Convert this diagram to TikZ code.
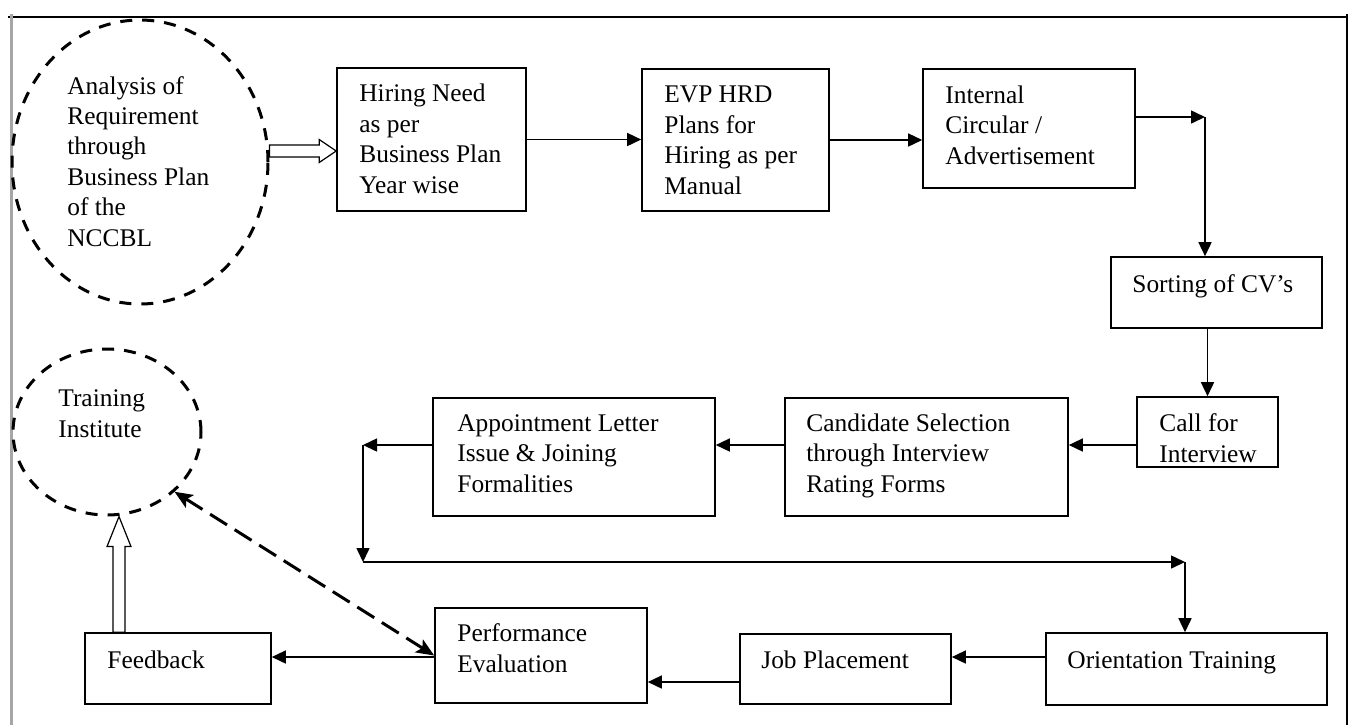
\documentclass[tikz,border=0pt]{standalone}
\usepackage{fontspec}
\setmainfont{Liberation Serif}
\usetikzlibrary{arrows.meta,calc,shapes.geometric}
\begin{document}
\begin{tikzpicture}[x=0.5pt,y=-0.5pt,
  stepbox/.style 2 args={draw, rectangle, line width=0.8pt, inner sep=0pt,
    minimum width=#1*0.5pt, minimum height=#2*0.5pt},
  goal/.style 2 args={draw, ellipse, line width=1.5pt, dash pattern=on 6pt off 5pt,
    inner sep=0pt, minimum width=#1*0.5pt, minimum height=#2*0.5pt},
  % texts are placed by the baseline of their last line
  txt/.style={anchor=base west, align=left, inner sep=0pt,
    font=\fontsize{12.7}{15.2}\selectfont},
  flow/.style={line width=0.75pt, -{Triangle[length=7pt,width=6.5pt]}},
  hollow/.style={draw, fill=white, line width=0.6pt, line join=miter},
  link/.style={line width=1.5pt, dash pattern=on 10pt off 4.5pt,
    {Stealth[length=9pt,width=7.5pt,inset=2pt]}-{Stealth[length=9pt,width=7.5pt,inset=2pt]}}
]
\useasboundingbox (0,0) rectangle (1353,725);

% page frame
\draw[line width=0.8pt] (8,17) -- (1347,17);
\draw[line width=1.5pt, black!35] (11,14) -- (11,725);
\draw[line width=0.8pt] (1347,14) -- (1347,725);

% dashed circles
\node[goal={256}{284}] (ana) at (140,162) {};
\node[txt] (ana-t) at (67,246) {Analysis of\\Requirement\\through\\Business Plan\\of the\\NCCBL};
\node[goal={188}{166}] (train) at (107,432) {};
\node[txt] (train-t) at (58,437) {Training\\Institute};

% process boxes
\node[stepbox={189}{143}] (hire) at (431.5,139.5) {};
\node[txt] (hire-t) at (359,193) {Hiring Need\\as per\\Business Plan\\Year wise};
\node[stepbox={187}{142}] (evp) at (735.5,140) {};
\node[txt] (evp-t) at (664,194) {EVP HRD\\Plans for\\Hiring as per\\Manual};
\node[stepbox={212}{119}] (circ) at (1029,128.5) {};
\node[txt] (circ-t) at (945,164) {Internal\\Circular /\\Advertisement};
\node[stepbox={211}{71}] (sort) at (1216.5,292.5) {};
\node[txt] (sort-t) at (1132,292) {Sorting of CV’s};
\node[stepbox={141}{70}] (call) at (1207.5,432) {};
\node[txt] (call-t) at (1159,462) {Call for\\Interview};
\node[stepbox={283}{118}] (cand) at (926.5,457) {};
\node[txt] (cand-t) at (806,492) {Candidate Selection\\through Interview\\Rating Forms};
\node[stepbox={282}{118}] (appt) at (574,457) {};
\node[txt] (appt-t) at (457,492) {Appointment Letter\\Issue \& Joining\\Formalities};
\node[stepbox={281}{72}] (orient) at (1186.5,669) {};
\node[txt] (orient-t) at (1067,668) {Orientation Training};
\node[stepbox={211}{70}] (job) at (845.5,669) {};
\node[txt] (job-t) at (761,668) {Job Placement};
\node[stepbox={212}{95}] (perf) at (541,655.5) {};
\node[txt] (perf-t) at (457,672) {Performance\\Evaluation};
\node[stepbox={186}{71}] (feed) at (178,668.5) {};
\node[txt] (feed-t) at (107,668) {Feedback};

% hollow arrow: analysis -> hiring need
\coordinate (ha) at (ana.east |- 0,151);
\coordinate (hb) at (hire.west |- 0,151);
\draw[hollow] ($(ha)+(0,-6)$) -- ($(hb)+(-17,-6)$) -- ($(hb)+(-17,-11.5)$) -- (hb)
  -- ($(hb)+(-17,11.5)$) -- ($(hb)+(-17,6)$) -- ($(ha)+(0,6)$) -- cycle;

% hollow arrow: feedback -> training institute
\coordinate (ut) at (train.south -| 119,0);
\coordinate (ub) at (feed.north -| 119,0);
\draw[hollow] ($(ub)+(-6,0)$) -- ($(ut)+(-6,30)$) -- ($(ut)+(-12,30)$) -- (ut)
  -- ($(ut)+(12,30)$) -- ($(ut)+(6,30)$) -- ($(ub)+(6,0)$) -- cycle;

% top row
\draw[flow] (hire.east) -- (evp.west |- hire.east);
\draw[flow] (evp.east) -- (circ.west |- evp.east);
\coordinate (c1) at (1205,117);
\draw[flow] (circ.east |- c1) -- (c1);
\draw[flow] (c1) -- (c1 |- sort.north);
\draw[flow] (call.north |- sort.south) -- (call.north);

% middle row
\coordinate (r2) at (0,445);
\draw[flow] (call.west |- r2) -- (cand.east |- r2);
\draw[flow] (cand.west |- r2) -- (appt.east |- r2);
\coordinate (c2) at (363,445);
\coordinate (c3) at (363,562);
\coordinate (c4) at (1185,562);
\draw[flow] (appt.west |- r2) -- (c2);
\draw[flow] (c2) -- (c3);
\draw[flow] (c3) -- (c4);
\draw[flow] (c4) -- (c4 |- orient.north);

% bottom row
\coordinate (r4) at (0,657);
\draw[flow] (orient.west |- r4) -- (job.east |- r4);
\draw[flow] (job.west |- 0,682) -- (perf.east |- 0,682);
\draw[flow] (perf.west |- r4) -- (feed.east |- r4);

% evaluation <-> training institute
\draw[link] (train.south east) -- (perf.west);
\end{tikzpicture}
\end{document}
